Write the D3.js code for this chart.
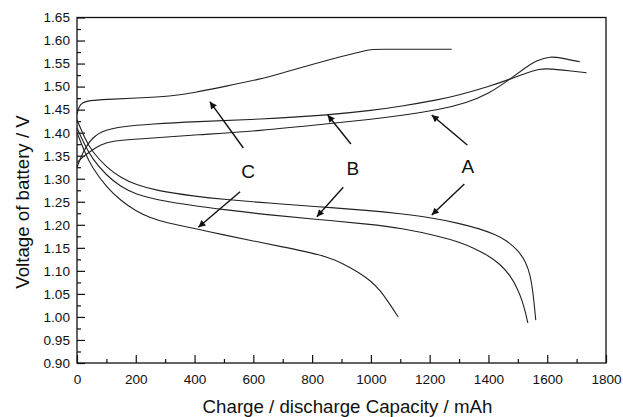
<!DOCTYPE html>
<html>
<head>
<meta charset="utf-8">
<script src="https://cdn.jsdelivr.net/npm/d3@7"></script>
<style>
  body { margin: 0; background: #fff; }
  svg { display: block; font-family: "Liberation Sans", Arial, sans-serif; }
  .domain { display: none; }
</style>
</head>
<body>
<div id="wrapper"></div>
<script>
// charge curves [capacity mAh, voltage V]
const chargeA = [[0,1.335],[25,1.350],[51,1.362],[80,1.374],[119,1.382],[200,1.386],[255,1.388],[400,1.395],[623,1.404],[850,1.419],[1000,1.429],[1100,1.437],[1235,1.450],[1326,1.465],[1400,1.484],[1473,1.516],[1530,1.543],[1564,1.557],[1610,1.566],[1650,1.562],[1711,1.554]]
const chargeB = [[0,1.325],[20,1.358],[51,1.390],[96,1.406],[150,1.413],[255,1.419],[400,1.424],[623,1.429],[850,1.438],[1000,1.448],[1100,1.457],[1235,1.472],[1303,1.482],[1400,1.500],[1473,1.516],[1530,1.530],[1575,1.538],[1600,1.540],[1734,1.530]]
const chargeC = [[0,1.440],[6,1.456],[17,1.465],[40,1.470],[100,1.472],[200,1.475],[320,1.479],[400,1.487],[500,1.500],[623,1.516],[700,1.530],[800,1.548],[900,1.566],[1000,1.581],[1000,1.581],[1275,1.581]]

// discharge curves
const dischargeA = [[0,1.428],[25,1.39],[50,1.36],[100,1.325],[150,1.302],[200,1.287],[271,1.274],[400,1.262],[500,1.255],[657,1.247],[800,1.240],[1000,1.231],[1100,1.224],[1200,1.216],[1303,1.203],[1371,1.191],[1420,1.180],[1462,1.166],[1500,1.145],[1527,1.120],[1543,1.090],[1552,1.050],[1557,1.020],[1561,0.993]]
const dischargeB = [[0,1.41],[25,1.375],[50,1.345],[100,1.307],[150,1.282],[200,1.266],[271,1.254],[400,1.241],[500,1.233],[657,1.221],[816,1.212],[1000,1.201],[1100,1.193],[1235,1.175],[1303,1.162],[1348,1.150],[1400,1.133],[1439,1.115],[1475,1.090],[1500,1.060],[1515,1.035],[1526,1.010],[1534,0.987]]
const dischargeC = [[0,1.40],[25,1.36],[50,1.325],[100,1.282],[150,1.252],[200,1.230],[250,1.215],[300,1.205],[400,1.192],[500,1.178],[600,1.165],[700,1.152],[800,1.139],[850,1.130],[900,1.118],[963,1.095],[1000,1.078],[1031,1.058],[1060,1.032],[1093,1.000]]

const curves = [chargeA, chargeB, chargeC, dischargeA, dischargeB, dischargeC]

// annotations: label position and arrows [tailX, tailV, headX, headV]
const labels = [
  {text: "C", x: 582, v: 1.312},
  {text: "B", x: 939, v: 1.319},
  {text: "A", x: 1330, v: 1.323}
]
const arrows = [
  [566, 1.3667, 452, 1.4672],
  [555, 1.2718, 413, 1.1946],
  [932, 1.3754, 853, 1.4384],
  [906, 1.2814, 816, 1.2176],
  [1328, 1.3732, 1207, 1.4384],
  [1318, 1.2885, 1207, 1.2213]
]

const xTicks = [0, 200, 400, 600, 800, 1000, 1200, 1400, 1600, 1800]
const xMinor = [100, 300, 500, 700, 900, 1100, 1300, 1500, 1700]
const yTicks = [0.90, 0.95, 1.00, 1.05, 1.10, 1.15, 1.20, 1.25, 1.30, 1.35, 1.40, 1.45, 1.50, 1.55, 1.60, 1.65]
const yMinor = yTicks.slice(0, -1).map(d => d + 0.025)

let dimensions = {
  width: 623,
  height: 417,
  margin: {top: 17.5, right: 17, bottom: 54, left: 77}
}
dimensions.boundedWidth = dimensions.width - dimensions.margin.left - dimensions.margin.right
dimensions.boundedHeight = dimensions.height - dimensions.margin.top - dimensions.margin.bottom

const xScale = d3.scaleLinear().domain([0, 1800]).range([0, dimensions.boundedWidth])
const yScale = d3.scaleLinear().domain([0.90, 1.65]).range([dimensions.boundedHeight, 0])

const wrapper = d3.select("#wrapper")
  .append("svg")
    .attr("width", dimensions.width)
    .attr("height", dimensions.height)

const bounds = wrapper.append("g")
  .attr("transform", `translate(${dimensions.margin.left},${dimensions.margin.top})`)

// axes, ticks pointing inside
bounds.append("g")
  .attr("transform", `translate(0,${dimensions.boundedHeight})`)
  .call(d3.axisBottom(xScale).tickValues(xTicks).tickSize(-8).tickPadding(11).tickFormat(d3.format("d")))
bounds.append("g")
  .attr("transform", `translate(0,${dimensions.boundedHeight})`)
  .call(d3.axisBottom(xScale).tickValues(xMinor).tickSize(-4).tickFormat(""))
bounds.append("g")
  .call(d3.axisLeft(yScale).tickValues(yTicks).tickSize(-8).tickPadding(7).tickFormat(d3.format(".2f")))
bounds.append("g")
  .call(d3.axisLeft(yScale).tickValues(yMinor).tickSize(-4).tickFormat(""))

bounds.selectAll(".tick line").attr("stroke", "#111").attr("stroke-width", 1.2)
bounds.selectAll(".tick text").attr("fill", "#111").style("font-size", "13.6px")

bounds.append("rect")
  .attr("width", dimensions.boundedWidth)
  .attr("height", dimensions.boundedHeight)
  .attr("fill", "none")
  .attr("stroke", "#111")
  .attr("stroke-width", 1.3)

// curves
const lineGenerator = d3.line()
  .x(d => xScale(d[0]))
  .y(d => yScale(d[1]))
  .curve(d3.curveBasis)

bounds.selectAll(".curve")
  .data(curves)
  .enter().append("path")
    .attr("class", "curve")
    .attr("d", lineGenerator)
    .attr("fill", "none")
    .attr("stroke", "#222")
    .attr("stroke-width", 1.1)

// arrows
wrapper.append("defs").append("marker")
    .attr("id", "head")
    .attr("viewBox", "0 0 10 10")
    .attr("refX", 10)
    .attr("refY", 5)
    .attr("markerWidth", 9)
    .attr("markerHeight", 7)
    .attr("markerUnits", "userSpaceOnUse")
    .attr("orient", "auto")
  .append("path")
    .attr("d", "M0,0L10,5L0,10Z")
    .attr("fill", "#111")

bounds.selectAll(".arrow")
  .data(arrows)
  .enter().append("line")
    .attr("class", "arrow")
    .attr("x1", d => xScale(d[0]))
    .attr("y1", d => yScale(d[1]))
    .attr("x2", d => xScale(d[2]))
    .attr("y2", d => yScale(d[3]))
    .attr("stroke", "#111")
    .attr("stroke-width", 1.4)
    .attr("marker-end", "url(#head)")

bounds.selectAll(".label")
  .data(labels)
  .enter().append("text")
    .attr("class", "label")
    .attr("x", d => xScale(d.x))
    .attr("y", d => yScale(d.v))
    .attr("text-anchor", "middle")
    .attr("dominant-baseline", "middle")
    .style("font-size", "19px")
    .attr("fill", "#111")
    .text(d => d.text)

// axis titles
wrapper.append("text")
  .attr("x", dimensions.margin.left + dimensions.boundedWidth / 2 + 6)
  .attr("y", 413)
  .attr("text-anchor", "middle")
  .style("font-size", "18.7px")
  .attr("fill", "#111")
  .text("Charge / discharge Capacity / mAh")

wrapper.append("text")
  .attr("transform", `translate(28.5,202) rotate(-90)`)
  .attr("text-anchor", "middle")
  .style("font-size", "18.7px")
  .attr("fill", "#111")
  .text("Voltage of battery / V")
</script>
</body>
</html>
